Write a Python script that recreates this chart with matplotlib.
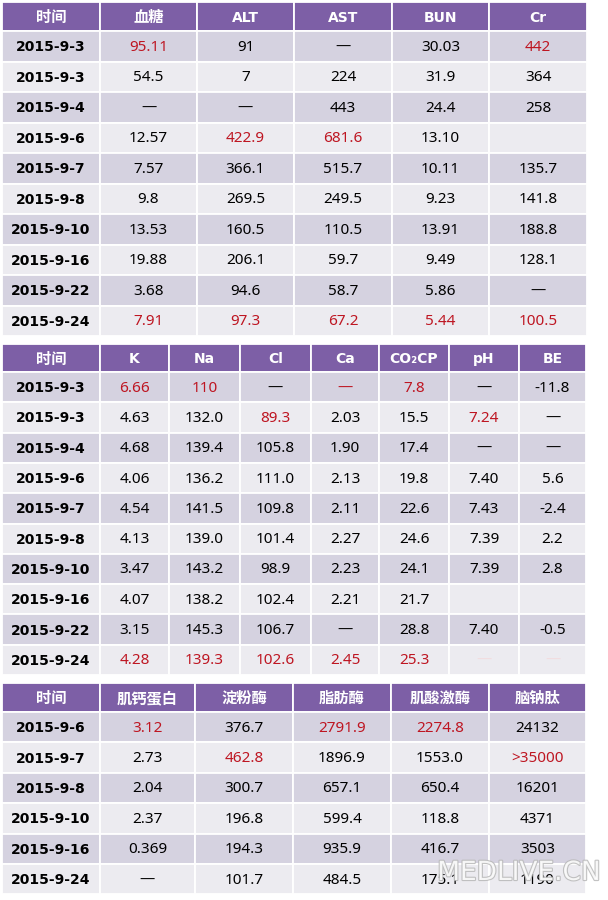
import matplotlib.pyplot as plt
from matplotlib.patches import Rectangle
import matplotlib.patheffects as pe

# 表1：血糖、肝肾功能
headers1 = ["时间", "血糖", "ALT", "AST", "BUN", "Cr"]
dates1 = ["2015-9-3", "2015-9-3", "2015-9-4", "2015-9-6", "2015-9-7",
          "2015-9-8", "2015-9-10", "2015-9-16", "2015-9-22", "2015-9-24"]
values1 = [
    ["95.11", "91", "—", "30.03", "442"],
    ["54.5", "7", "224", "31.9", "364"],
    ["—", "—", "443", "24.4", "258"],
    ["12.57", "422.9", "681.6", "13.10", ""],
    ["7.57", "366.1", "515.7", "10.11", "135.7"],
    ["9.8", "269.5", "249.5", "9.23", "141.8"],
    ["13.53", "160.5", "110.5", "13.91", "188.8"],
    ["19.88", "206.1", "59.7", "9.49", "128.1"],
    ["3.68", "94.6", "58.7", "5.86", "—"],
    ["7.91", "97.3", "67.2", "5.44", "100.5"],
]
red1 = [(0, 0), (0, 4), (3, 1), (3, 2), (9, 0), (9, 1), (9, 2), (9, 3), (9, 4)]

# 表2：电解质、血气
headers2 = ["时间", "K", "Na", "Cl", "Ca", "CO₂CP", "pH", "BE"]
dates2 = dates1
values2 = [
    ["6.66", "110", "—", "—", "7.8", "—", "-11.8"],
    ["4.63", "132.0", "89.3", "2.03", "15.5", "7.24", "—"],
    ["4.68", "139.4", "105.8", "1.90", "17.4", "—", "—"],
    ["4.06", "136.2", "111.0", "2.13", "19.8", "7.40", "5.6"],
    ["4.54", "141.5", "109.8", "2.11", "22.6", "7.43", "-2.4"],
    ["4.13", "139.0", "101.4", "2.27", "24.6", "7.39", "2.2"],
    ["3.47", "143.2", "98.9", "2.23", "24.1", "7.39", "2.8"],
    ["4.07", "138.2", "102.4", "2.21", "21.7", "", ""],
    ["3.15", "145.3", "106.7", "—", "28.8", "7.40", "-0.5"],
    ["4.28", "139.3", "102.6", "2.45", "25.3", "—", "—"],
]
red2 = [(0, 0), (0, 1), (0, 3), (0, 4), (1, 2), (1, 5),
        (9, 0), (9, 1), (9, 2), (9, 3), (9, 4)]
faint2 = [(9, 5), (9, 6)]

# 表3：心肌酶等
headers3 = ["时间", "肌钙蛋白", "淀粉酶", "脂肪酶", "肌酸激酶", "脑钠肽"]
dates3 = ["2015-9-6", "2015-9-7", "2015-9-8", "2015-9-10", "2015-9-16", "2015-9-24"]
values3 = [
    ["3.12", "376.7", "2791.9", "2274.8", "24132"],
    ["2.73", "462.8", "1896.9", "1553.0", ">35000"],
    ["2.04", "300.7", "657.1", "650.4", "16201"],
    ["2.37", "196.8", "599.4", "118.8", "4371"],
    ["0.369", "194.3", "935.9", "416.7", "3503"],
    ["—", "101.7", "484.5", "175.1", "1190"],
]
red3 = [(0, 0), (0, 2), (0, 3), (1, 1), (1, 4)]

PURPLE = "#7d5fa6"
DARK = "#d5d2e0"
LIGHT = "#ecebf0"
RED = "#be1622"
FAINT = "#f2dde0"

HEAD_FONT = ["DejaVu Sans", "Noto Sans CJK SC"]
NUM_FONT = ["Noto Sans", "Noto Sans CJK SC", "DejaVu Sans"]

fig = plt.figure(figsize=(6.08, 9.0), dpi=100)
ax = fig.add_axes([0, 0, 1, 1])
ax.set_xlim(0, 608)
ax.set_ylim(900, 0)
ax.axis("off")


def draw_table(top, head_h, row_h, xs, headers, dates, values, red, faint=()):
    # 表头
    for j, h in enumerate(headers):
        ax.add_patch(Rectangle((xs[j], top), xs[j + 1] - xs[j], head_h,
                               fc=PURPLE, ec="white", lw=1.3))
        size = 10 if h.isascii() or "₂" in h else 11
        ax.text((xs[j] + xs[j + 1]) / 2, top + head_h / 2 + 1, h,
                color="white", fontsize=size, fontweight="bold",
                family=HEAD_FONT, ha="center", va="center")
    # 数据行
    for i, d in enumerate(dates):
        y0 = top + head_h + i * row_h
        fc = DARK if i % 2 == 0 else LIGHT
        cells = [d] + values[i]
        for j, v in enumerate(cells):
            ax.add_patch(Rectangle((xs[j], y0), xs[j + 1] - xs[j], row_h,
                                   fc=fc, ec="white", lw=1.3))
            if not v:
                continue
            cx = (xs[j] + xs[j + 1]) / 2
            if j == 0:
                ax.text(cx, y0 + row_h / 2 + 1, v, color="black", fontsize=10,
                        fontweight="bold", family=HEAD_FONT,
                        ha="center", va="center")
            else:
                c = "black"
                if (i, j - 1) in red:
                    c = RED
                elif (i, j - 1) in faint:
                    c = FAINT
                ax.text(cx, y0 + row_h / 2 + 1, v, color=c, fontsize=11,
                        family=NUM_FONT, ha="center", va="center")


draw_table(2, 29, 30.5, [2, 100, 197, 294, 392, 489, 587],
           headers1, dates1, values1, red1)
draw_table(344, 28, 30.3, [2, 100, 169, 240, 311, 379, 449, 519, 586],
           headers2, dates2, values2, red2, faint2)
draw_table(683, 29, 30.4, [2, 100, 195, 293, 391, 489, 586],
           headers3, dates3, values3, red3)

# 水印（与原图一样压在最后两行上）
ax.text(519, 873, "MEDLIVE.CN", fontsize=19, color="white", alpha=0.85,
        family="DejaVu Sans", ha="center", va="center",
        path_effects=[pe.withStroke(linewidth=1.6, foreground="#b8b8b8")])

fig.savefig("out.png", dpi=100, facecolor="white")
